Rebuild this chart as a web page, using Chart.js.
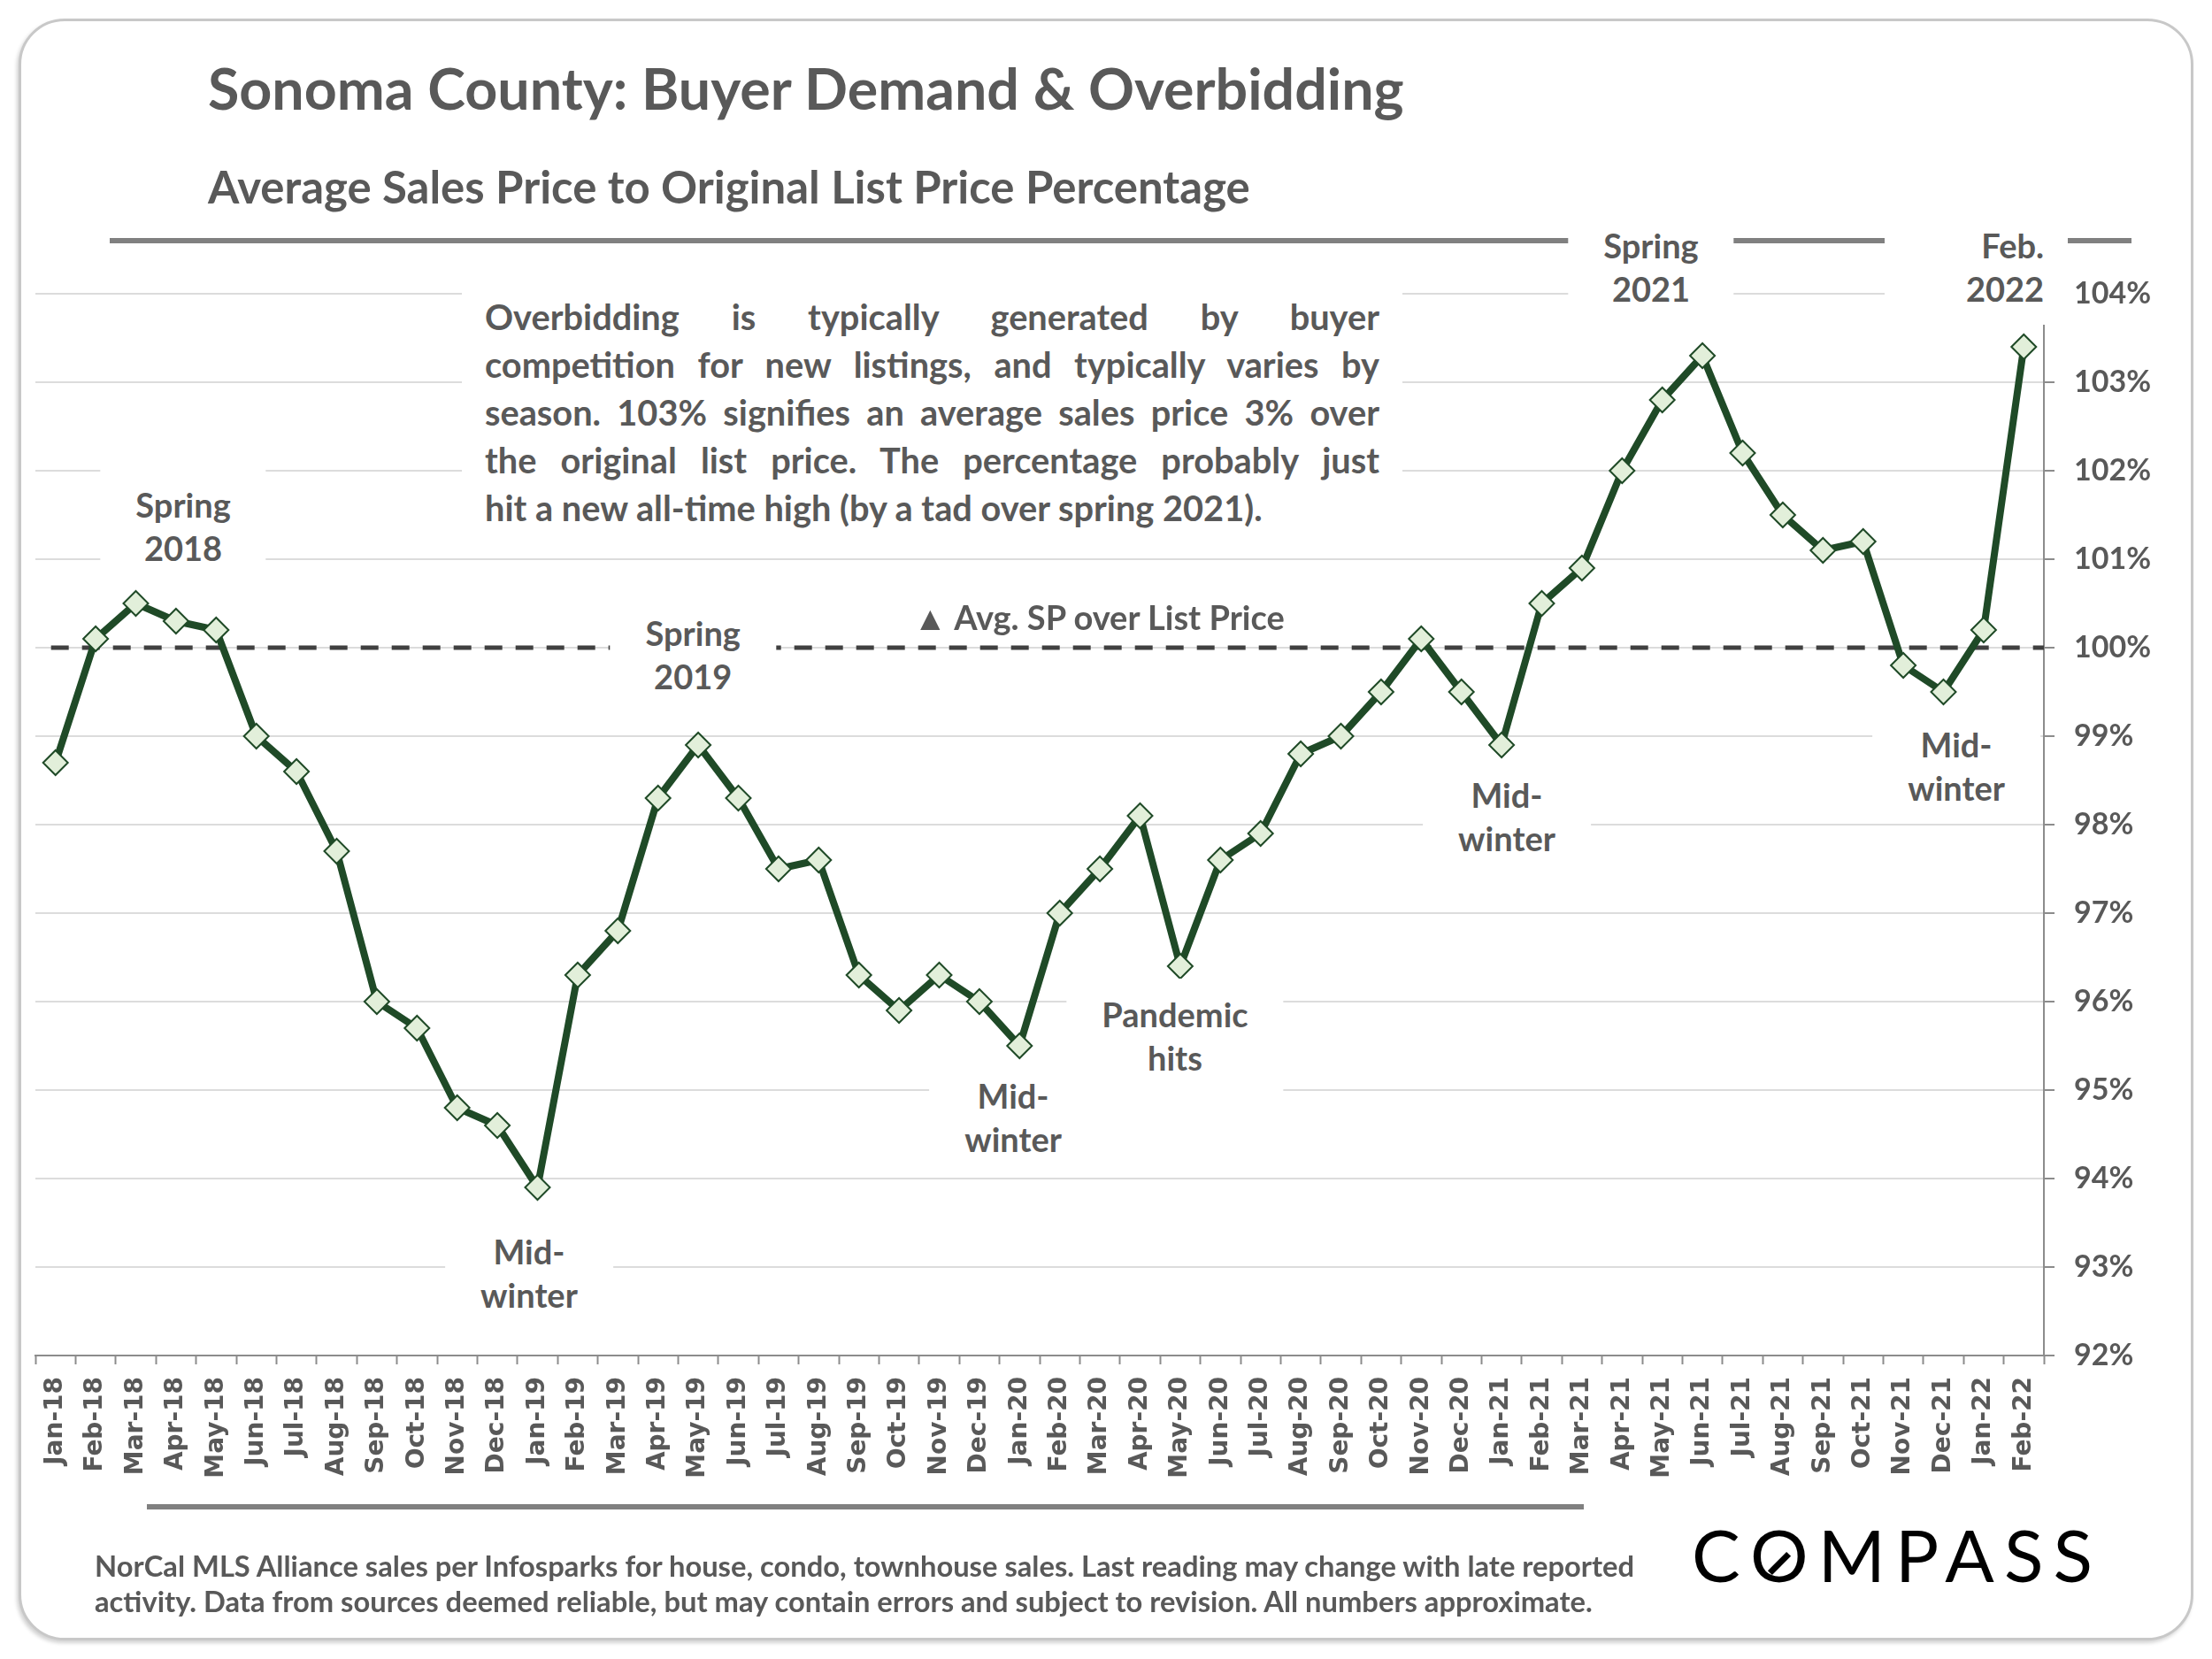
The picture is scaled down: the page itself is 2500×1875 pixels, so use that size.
<!DOCTYPE html>
<html>
<head>
<meta charset="utf-8">
<script src="https://cdn.jsdelivr.net/npm/chart.js@4.4.1/dist/chart.umd.min.js"></script>
<style>
html,body{margin:0;padding:0;background:#fff;}
body{width:2500px;height:1875px;position:relative;overflow:hidden;font-family:'Lato','Open Sans',sans-serif;font-weight:700;color:#595959;}
.card{position:absolute;left:21px;top:21px;width:2458px;height:1833px;box-sizing:border-box;border:3px solid #c8c8c8;border-radius:52px;box-shadow:-2px 3px 4px rgba(0,0,0,0.18);background:#fff;z-index:0;}
.rule{position:absolute;background:#808080;height:6px;z-index:1;}
#chart{position:absolute;left:0;top:0;z-index:2;}
.txt{position:absolute;white-space:nowrap;line-height:1.2;z-index:3;}
.lbl{position:absolute;background:#fff;text-align:center;font-size:38px;line-height:49px;padding:16px 40px;transform:translate(-50%,-50%);white-space:nowrap;z-index:3;}
.lbl.plain{background:transparent;padding:0 4px;}
.lbl.wideleft{text-align:right;padding:16px 27px 16px 92px;}
#note{position:absolute;left:522px;top:320px;width:1011px;padding:10px 26px;background:#fff;font-size:40px;line-height:54px;z-index:3;}
#note .j{text-align:justify;text-align-last:justify;}
#note span{white-space:nowrap;}
#logo{position:absolute;font-family:'Lato',sans-serif;font-weight:400;color:#000;font-size:82px;line-height:1.2;white-space:nowrap;z-index:3;}
#logo .o{position:relative;display:inline-block;}
#logo .slash{position:absolute;width:30px;height:7px;background:#000;transform:translate(-50%,-50%) rotate(-45deg);}
</style>
</head>
<body>
<div class="card"></div>
<div class="rule" style="left:124px;top:269px;width:2285px;"></div>
<div class="rule" style="left:166px;top:1700px;width:1624px;"></div>

<div id="title" class="txt" style="font-size:60px;">Sonoma County: Buyer Demand &amp; Overbidding</div>
<div id="subtitle" class="txt" style="font-size:46px;">Average Sales Price to Original List Price Percentage</div>

<div id="note">
  <div class="j">Overbidding is typically generated by buyer</div>
  <div class="j">competition for new listings, and typically varies by</div>
  <div class="j">season. 103% signifies an average sales price 3% over</div>
  <div class="j">the original list price. The percentage probably just</div>
  <div>hit a new all-time high (by a tad over spring 2021).</div>
</div>

<div id="foot1" class="txt" style="font-size:27px;">NorCal MLS Alliance sales per Infosparks for house, condo, townhouse sales. Last reading may change with late reported</div>
<div id="foot2" class="txt" style="font-size:27px;">activity. Data from sources deemed reliable, but may contain errors and subject to revision. All numbers approximate.</div>

<div id="logo">C<span class="o">O<span class="slash"></span></span>MPASS</div>

<canvas id="chart" width="2500" height="1875"></canvas>

<script>
// ---------------- DATA ----------------
const categories = [
  'Jan-18','Feb-18','Mar-18','Apr-18','May-18','Jun-18','Jul-18','Aug-18','Sep-18','Oct-18','Nov-18','Dec-18',
  'Jan-19','Feb-19','Mar-19','Apr-19','May-19','Jun-19','Jul-19','Aug-19','Sep-19','Oct-19','Nov-19','Dec-19',
  'Jan-20','Feb-20','Mar-20','Apr-20','May-20','Jun-20','Jul-20','Aug-20','Sep-20','Oct-20','Nov-20','Dec-20',
  'Jan-21','Feb-21','Mar-21','Apr-21','May-21','Jun-21','Jul-21','Aug-21','Sep-21','Oct-21','Nov-21','Dec-21',
  'Jan-22','Feb-22'
];
const salesToOrigListPct = [
  98.7, 100.1, 100.5, 100.3, 100.2, 99.0, 98.6, 97.7, 96.0, 95.7, 94.8, 94.6,
  93.9, 96.3, 96.8, 98.3, 98.9, 98.3, 97.5, 97.6, 96.3, 95.9, 96.3, 96.0,
  95.5, 97.0, 97.5, 98.1, 96.4, 97.6, 97.9, 98.8, 99.0, 99.5, 100.1, 99.5,
  98.9, 100.5, 100.9, 102.0, 102.8, 103.3, 102.2, 101.5, 101.1, 101.2, 99.8, 99.5,
  100.2, 103.4
];
const yMin = 92;
const yMax = 104;
const yStep = 1;
const referenceLevel = 100;
const referenceLabel = '\u25B2 Avg. SP over List Price';
const noteTexts = [
  ['Spring','2018'],
  ['Spring','2019'],
  ['Mid-','winter'],
  ['Mid-','winter'],
  ['Pandemic','hits'],
  ['Mid-','winter'],
  ['Spring','2021'],
  ['Feb.','2022'],
  ['Mid-','winter']
];

// ---------------- LAYOUT (positions in category index / value units) ----------------
const noteAnchors = [
  [3.18, 101.37],
  [15.87, 99.92],
  [11.79, 92.93],
  [23.84, 94.69],
  [27.87, 95.61],
  [36.13, 98.09],
  [39.72, 104.30],
  [48.53, 104.30],
  [47.32, 98.66]
];
const noteBoxClass = ['', '', '', '', '', '', '', 'wideleft', ''];
const referenceLabelAnchor = [25.98, 100.35];

// ---------------- TEXT FITTING ----------------
function fitWidth(el, target){
  const fs = parseFloat(getComputedStyle(el).fontSize);
  const w = el.getBoundingClientRect().width;
  const nfs = fs * target / w;
  el.style.fontSize = nfs + 'px';
  return nfs;
}
function place(el, left, baseline){
  const fs = parseFloat(getComputedStyle(el).fontSize);
  el.style.left = left + 'px';
  el.style.top = (baseline - 0.987 * fs) + 'px';
}
fitWidth(document.getElementById('title'), 1352);
place(document.getElementById('title'), 235, 125);
fitWidth(document.getElementById('subtitle'), 1178);
place(document.getElementById('subtitle'), 235, 230);
const ffs = fitWidth(document.getElementById('foot1'), 1741);
document.getElementById('foot2').style.fontSize = ffs + 'px';
place(document.getElementById('foot1'), 107, 1782);
place(document.getElementById('foot2'), 107, 1822);

// annotation note: size so the last (left-aligned) line has its reference width
(function(){
  const note = document.getElementById('note');
  const rows = Array.from(note.children);
  const spans = rows.map(r => { const s = document.createElement('span'); s.textContent = r.textContent; r.textContent=''; r.appendChild(s); return s; });
  const fs0 = 40;
  let fs = fs0 * 940 / spans[4].getBoundingClientRect().width;
  const maxW = Math.max(...spans.slice(0,4).map(s => s.getBoundingClientRect().width)) * fs / fs0;
  if (maxW > 1005) fs = fs * 1005 / maxW;
  note.style.fontSize = fs + 'px';
  const firstTop = 373 - (27 + 0.387 * fs);
  note.style.top = (firstTop - 10) + 'px';
})();

// logo
(function(){
  const logo = document.getElementById('logo');
  const fs = 82;
  const w = logo.getBoundingClientRect().width;
  const ls = (453 - w) / 6;
  logo.style.letterSpacing = ls + 'px';
  logo.style.left = '1912px';
  logo.style.top = (1788 - 0.987 * fs) + 'px';
  const o = logo.querySelector('.o');
  const sl = logo.querySelector('.slash');
  const ow = o.getBoundingClientRect().width - ls;
  sl.style.left = (ow / 2) + 'px';
  sl.style.top = ((0.987 - 0.358) * fs + 0.1 * fs) + 'px';
})();

// ---------------- CHART ----------------
const refLinePlugin = {
  id: 'refLine',
  beforeDatasetsDraw(chart){
    const {ctx, scales:{x, y}} = chart;
    const py = y.getPixelForValue(referenceLevel);
    ctx.save();
    ctx.strokeStyle = '#404040';
    ctx.lineWidth = 5;
    ctx.setLineDash([20, 15]);
    ctx.beginPath();
    ctx.moveTo(x.getPixelForValue(0) - 5, py);
    ctx.lineTo(x.right, py);
    ctx.stroke();
    ctx.restore();
  }
};

const chart = new Chart(document.getElementById('chart').getContext('2d'), {
  type: 'line',
  data: {
    labels: categories,
    datasets: [{
      data: salesToOrigListPct,
      borderColor: '#1f4a27',
      borderWidth: 8,
      borderJoinStyle: 'round',
      borderCapStyle: 'round',
      tension: 0,
      pointStyle: 'rectRot',
      pointRadius: 14,
      pointHoverRadius: 14,
      pointBackgroundColor: '#e2efda',
      pointBorderColor: '#1f4a27',
      pointBorderWidth: 2,
      clip: false
    }]
  },
  options: {
    responsive: false,
    animation: false,
    devicePixelRatio: 1,
    layout: { padding: { left: 40, top: 332, right: 40, bottom: 143 } },
    plugins: { legend: { display: false }, tooltip: { enabled: false } },
    scales: {
      x: {
        type: 'category',
        offset: true,
        grid: { offset: true, drawOnChartArea: false, drawTicks: true, tickLength: 10, tickColor: '#8c8c8c', tickWidth: 2 },
        border: { display: true, color: '#8c8c8c', width: 2 },
        ticks: { autoSkip: false, minRotation: 90, maxRotation: 90, padding: 14, color: '#595959',
          font: { family: 'DejaVu Sans', weight: 'bold', size: 28 } },
        afterFit: s => { s.height = 200; }
      },
      y: {
        position: 'right',
        min: yMin,
        max: yMax,
        ticks: { stepSize: yStep, callback: v => v + '%', padding: 22, color: '#595959',
          font: { family: 'Lato', weight: 'bold', size: 34 } },
        grid: { color: '#dcdcdc', lineWidth: 2, tickColor: '#8c8c8c', tickLength: 12, tickWidth: 2 },
        border: { display: true, color: '#8c8c8c', width: 2 },
        afterFit: s => { s.width = 150; }
      }
    }
  },
  plugins: [refLinePlugin]
});

// ---------------- ANNOTATION LABELS (positioned through the chart scales) ----------------
const xs = chart.scales.x, ys = chart.scales.y;
noteTexts.forEach((lines, i) => {
  const d = document.createElement('div');
  d.className = ('lbl ' + noteBoxClass[i]).trim();
  d.innerHTML = lines.map(t => t.replace(/&/g,'&amp;')).join('<br>');
  document.body.appendChild(d);
  const cx = xs.getPixelForValue(noteAnchors[i][0]);
  const cy = ys.getPixelForValue(noteAnchors[i][1]);
  if (noteBoxClass[i] === 'wideleft') {
    // text centred on the anchor, box extended to the left
    const r = d.getBoundingClientRect();
    const cs = getComputedStyle(d);
    const pl = parseFloat(cs.paddingLeft), pr = parseFloat(cs.paddingRight);
    const tw = r.width - pl - pr;
    d.style.transform = 'translate(0,-50%)';
    d.style.left = (cx - tw / 2 - pl) + 'px';
  } else {
    d.style.left = cx + 'px';
  }
  d.style.top = cy + 'px';
});
(function(){
  const d = document.createElement('div');
  d.className = 'lbl plain';
  d.textContent = referenceLabel;
  d.style.left = xs.getPixelForValue(referenceLabelAnchor[0]) + 'px';
  d.style.top = ys.getPixelForValue(referenceLabelAnchor[1]) + 'px';
  document.body.appendChild(d);
})();
</script>
</body>
</html>
